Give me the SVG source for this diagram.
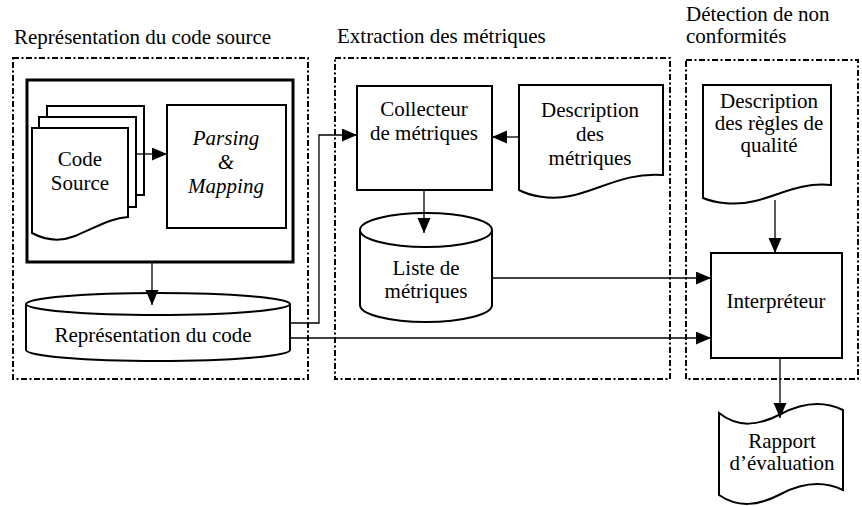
<svg xmlns="http://www.w3.org/2000/svg" width="862" height="506" viewBox="0 0 862 506">
<style>
text{font-family:'Liberation Serif','Times New Roman',Tinos,'DejaVu Serif',serif;font-size:21px;fill:#000}
.c{text-anchor:middle}
.it{font-style:italic}
.zone{fill:none;stroke:#000;stroke-width:2;stroke-dasharray:6 2.5 2 2.5}
.shape{fill:#fff;stroke:#000;stroke-width:2}
.thick{fill:#fff;stroke:#000;stroke-width:3}
.conn{fill:none;stroke:#000;stroke-width:1.3}
</style>
<defs>
<marker id="arr" markerUnits="userSpaceOnUse" markerWidth="16" markerHeight="14" refX="15" refY="6.5" orient="auto">
<path d="M0,0 L15,6.5 L0,13 Z" fill="#000"/>
</marker>
</defs>

<g id="zone-representation">
<rect class="zone" x="13" y="58" width="295" height="321"/>
<text x="14" y="44" font-family="Liberation Serif, serif">Représentation du code source</text>
</g>
<g id="zone-extraction">
<rect class="zone" x="335" y="58" width="335" height="321"/>
<text x="337" y="43">Extraction des métriques</text>
</g>
<g id="zone-detection">
<rect class="zone" x="686" y="60" width="172" height="319"/>
<text x="686" y="21">Détection de non</text>
<text x="686" y="43">conformités</text>
</g>

<g id="analyseur">
<rect class="thick" x="27" y="80" width="266" height="182"/>
</g>

<g id="code-source">
<rect class="shape" x="47" y="106" width="97" height="89"/>
<rect class="shape" x="39" y="117" width="97" height="90"/>
<path class="shape" d="M32,128 H128 V217 C110,218 95,228 75,236 C60,242 45,240 32,233 Z"/>
<text class="c" x="80" y="166">Code</text>
<text class="c" x="80" y="190">Source</text>
</g>

<g id="parsing">
<rect class="shape" x="167" y="105" width="119" height="123"/>
<text class="c it" x="226" y="145">Parsing</text>
<text class="c it" x="226" y="169">&amp;</text>
<text class="c it" x="226" y="193">Mapping</text>
</g>

<g id="representation-code">
<path class="shape" d="M26,304 V350 A132,11 0 0 0 290,350 V304"/>
<ellipse class="shape" cx="158" cy="304" rx="132" ry="11"/>
<text class="c" x="153" y="342">Représentation du code</text>
</g>

<g id="collecteur">
<rect class="shape" x="357" y="86" width="135" height="104"/>
<text class="c" x="424" y="116">Collecteur</text>
<text class="c" x="424" y="140">de métriques</text>
</g>

<g id="description-metriques">
<path class="shape" d="M519,85 H663 V175 C625,172 600,190 570,196 C550,200 530,196 519,190 Z"/>
<text class="c" x="590" y="117">Description</text>
<text class="c" x="590" y="141">des</text>
<text class="c" x="590" y="165">métriques</text>
</g>

<g id="liste-metriques">
<path class="shape" d="M360,230 V305 A66,17 0 0 0 492,305 V230"/>
<ellipse class="shape" cx="426" cy="230" rx="66" ry="17"/>
<text class="c" x="426" y="275">Liste de</text>
<text class="c" x="426" y="298">métriques</text>
</g>

<g id="description-regles">
<path class="shape" d="M703,85 H831 V185 C800,182 780,195 755,201 C735,206 715,203 703,198 Z"/>
<text class="c" x="769" y="108">Description</text>
<text class="c" x="769" y="130">des règles de</text>
<text class="c" x="769" y="152">qualité</text>
</g>

<g id="interpreteur">
<rect class="shape" x="711" y="253" width="131" height="105"/>
<text class="c" x="776" y="308">Interpréteur</text>
</g>

<g id="rapport">
<path class="shape" d="M719,413 C738,428 758,426 781,414 C802,403 822,400 843,410 V490 C822,480 802,483 781,494 C758,506 738,508 719,495 Z"/>
<text class="c" x="782" y="448">Rapport</text>
<text class="c" x="782" y="470">d’évaluation</text>
</g>

<g id="connectors">
<path class="conn" d="M136,154 L167,154" marker-end="url(#arr)"/>
<path class="conn" d="M152,262 L152,305" marker-end="url(#arr)"/>
<path class="conn" d="M290,323 L319,323 L319,135 L357,135" marker-end="url(#arr)"/>
<path class="conn" d="M290,338 L711,338" marker-end="url(#arr)"/>
<path class="conn" d="M519,137 L492,137" marker-end="url(#arr)"/>
<path class="conn" d="M424,190 L424,233" marker-end="url(#arr)"/>
<path class="conn" d="M492,278 L711,278" marker-end="url(#arr)"/>
<path class="conn" d="M775,200 L775,253" marker-end="url(#arr)"/>
<path class="conn" d="M780,358 L780,418" marker-end="url(#arr)"/>
</g>
</svg>
